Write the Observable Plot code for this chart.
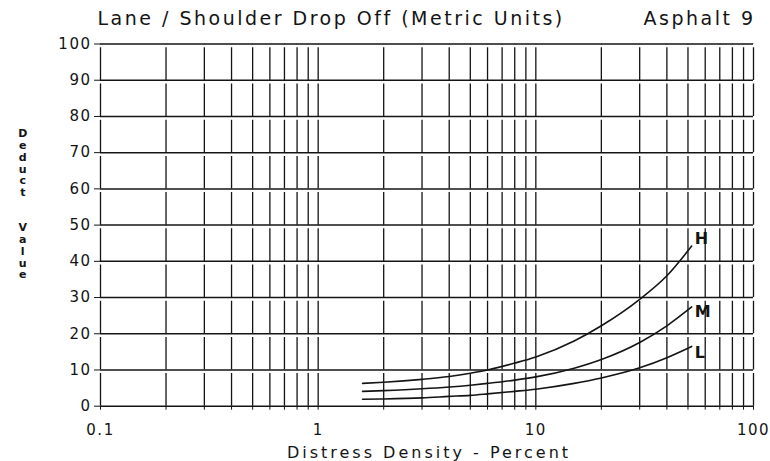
<!DOCTYPE html>
<html><head><meta charset="utf-8">
<script src="https://cdn.jsdelivr.net/npm/d3@7"></script>
<script src="https://cdn.jsdelivr.net/npm/@observablehq/plot@0.6"></script>
<style>body{margin:0;background:#fff} svg{display:block}</style>
</head><body><div id="chart"></div>
<script>
// Distress density (%) sample points shared by the three curves
const density = [1.6, 2, 3, 4, 5, 6, 8, 10, 15, 20, 30, 40, 52];
const deductH = [6.3, 6.6, 7.4, 8.2, 9.1, 10.0, 11.9, 13.6, 18.0, 22.2, 29.5, 36.0, 44.2];
const deductM = [4.1, 4.3, 4.8, 5.3, 5.8, 6.3, 7.2, 8.1, 10.5, 12.9, 17.6, 22.2, 27.4];
const deductL = [1.9, 2.0, 2.3, 2.7, 3.0, 3.4, 4.1, 4.7, 6.3, 7.8, 10.6, 13.4, 16.5];
const severities = ["H", "M", "L"];

const yTicks = [0, 10, 20, 30, 40, 50, 60, 70, 80, 90, 100];
const xGrid = [0.1, 0.2, 0.3, 0.4, 0.5, 0.6, 0.7, 0.8, 0.9,
               1, 2, 3, 4, 5, 6, 7, 8, 9,
               10, 20, 30, 40, 50, 60, 70, 80, 90, 100];
const xTickLabels = [0.1, 1, 10, 100];

const title = "Lane / Shoulder Drop Off (Metric Units)";
const subtitle = "Asphalt 9";
const xLabel = "Distress Density - Percent";
const yLabel = "Deduct Value";

const series = {H: deductH, M: deductM, L: deductL};
const rows = severities.flatMap(s => density.map((d, i) => ({sev: s, x: d, y: series[s][i]})));
const ends = severities.map(s => ({sev: s, x: density[density.length - 1], y: series[s][series[s].length - 1]}));

const ink = "#141414";
const font = "DejaVu Sans, Verdana, sans-serif";

const chart = Plot.plot({
  width: 770, height: 461,
  marginLeft: 100, marginRight: 17, marginTop: 43.5, marginBottom: 55.3,
  style: {fontFamily: font, color: ink, background: "#fff", letterSpacing: "1.5px"},
  x: {type: "log", domain: [0.1, 100]},
  y: {domain: [0, 100]},
  marks: [
    Plot.ruleY(yTicks, {stroke: ink, strokeWidth: 1.5}),
    Plot.ruleX(xGrid, {y1: 0, y2: 100, stroke: ink, strokeWidth: 1.3, strokeDasharray: "32.6,3.6"}),
    Plot.axisY({ticks: yTicks, tickSize: 6, tickPadding: 3, fontSize: 15, label: null, stroke: ink}),
    Plot.axisX({ticks: xGrid, tickSize: 4, tickPadding: 14, fontSize: 15, label: null,
      tickFormat: d => xTickLabels.includes(d) ? String(d) : ""}),
    Plot.line(rows, {x: "x", y: "y", z: "sev", stroke: ink, strokeWidth: 1.6, curve: "monotone-x"}),
    Plot.text(ends.filter(d => d.sev === "H"), {x: "x", y: "y", text: "sev", textAnchor: "start", lineAnchor: "middle", dx: 3, dy: -7, fontSize: 16, fontWeight: "bold", fill: ink}),
    Plot.text(ends.filter(d => d.sev === "M"), {x: "x", y: "y", text: "sev", textAnchor: "start", lineAnchor: "middle", dx: 3, dy: 5, fontSize: 16, fontWeight: "bold", fill: ink}),
    Plot.text(ends.filter(d => d.sev === "L"), {x: "x", y: "y", text: "sev", textAnchor: "start", lineAnchor: "middle", dx: 3, dy: 6.5, fontSize: 16, fontWeight: "bold", fill: ink}),
    Plot.text([title], {frameAnchor: "top-left", text: d => d, textAnchor: "start", lineAnchor: "middle", dx: -3, dy: -25.5, fontSize: 19, fill: ink}),
    Plot.text([subtitle], {frameAnchor: "top-right", text: d => d, textAnchor: "end", lineAnchor: "middle", dx: 2, dy: -25.5, fontSize: 19, fill: ink}),
    Plot.text([xLabel], {frameAnchor: "bottom", text: d => d, lineAnchor: "middle", dx: 2, dy: 47, fontSize: 16, fill: ink}),
    Plot.text([yLabel.split("").map(c => c === " " ? "\u00a0\n" : c).join("\n")], {frameAnchor: "left", text: d => d, textAnchor: "middle", lineAnchor: "middle", lineHeight: 1.07, dx: -77, dy: -21, fontSize: 11, fontWeight: "bold", fill: ink})
  ]
});
d3.select(chart).selectAll("text")
  .filter(function() { return this.textContent === title || this.textContent === subtitle; })
  .style("letter-spacing", "2.5px");
d3.select(chart).selectAll("text")
  .filter(function() { return this.textContent === xLabel; })
  .style("letter-spacing", "3px");
document.getElementById("chart").append(chart);
</script>
</body></html>
